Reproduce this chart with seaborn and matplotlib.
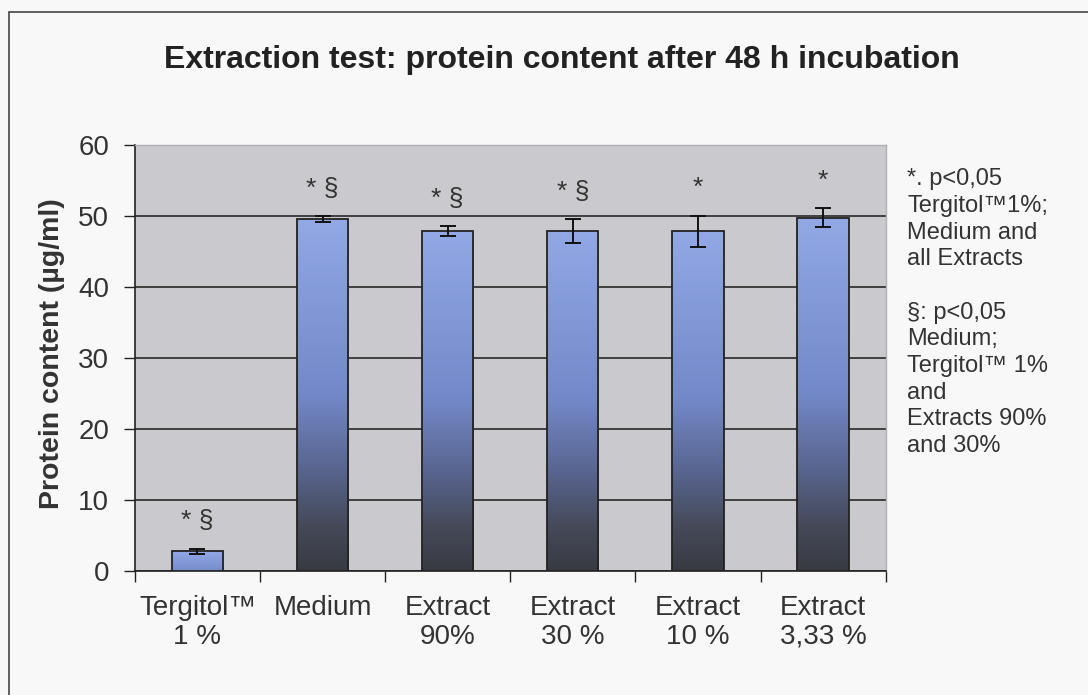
import numpy as np
import pandas as pd
import matplotlib
matplotlib.use("Agg")
import matplotlib.pyplot as plt
import seaborn as sns
from matplotlib.colors import LinearSegmentedColormap
from matplotlib.patches import Rectangle

categories = ["Tergitol\u2122\n1 %", "Medium", "Extract\n90%", "Extract\n30 %", "Extract\n10 %", "Extract\n3,33 %"]
protein = [2.8, 49.6, 47.9, 47.9, 47.9, 49.8]
errors = [0.4, 0.4, 0.7, 1.7, 2.2, 1.3]
marks = ["* \u00a7", "* \u00a7", "* \u00a7", "* \u00a7", "*", "*"]
note = ("*. p<0,05\nTergitol\u21221%;\nMedium and\nall Extracts\n\n"
        "\u00a7: p<0,05\nMedium;\nTergitol\u2122 1%\nand\nExtracts 90%\nand 30%")

df = pd.DataFrame({"group": categories, "protein": protein})

sns.set_theme(style="white")
plt.rcParams['font.family'] = ['Liberation Sans', 'DejaVu Sans']
text_col = "#333333"

fig = plt.figure(figsize=(10.88, 6.95), dpi=100)
fig.patch.set_facecolor("#f8f8f8")
ax = fig.add_axes([0.124, 0.178, 0.690, 0.613])
ax.set_facecolor("#cacace")

sns.barplot(data=df, x="group", y="protein", ax=ax, errorbar=None,
            width=0.41, color="#8fa6e4", edgecolor="#222222", linewidth=1.3, zorder=3)

ax.set_ylim(0, 60)
ax.set_xlim(-0.5, len(categories) - 0.5)
ax.set_yticks(np.arange(0, 61, 10))
ax.yaxis.grid(True, color="#1a1a1a", linewidth=1.1, zorder=0)
ax.set_axisbelow(True)

cmap = LinearSegmentedColormap.from_list(
    "bar", [(0.0, "#393b42"), (0.12, "#444857"), (0.3, "#5a6792"),
            (0.5, "#7388c8"), (1.0, "#92a9e6")])

for p, h in zip(ax.patches, protein):
    x0 = p.get_x(); w = p.get_width()
    lo = 0.0 if h > 10 else 0.55
    grad = np.linspace(1.0, lo, 256).reshape(-1, 1)
    im = ax.imshow(grad, cmap=cmap, vmin=0, vmax=1, aspect="auto",
                   extent=(x0, x0 + w, 0, h), zorder=3.5, interpolation="bicubic")
    im.set_clip_path(p)
    p.set_facecolor("none")
    p.set_zorder(4)

centers = [p.get_x() + p.get_width() / 2 for p in ax.patches]
ax.errorbar(centers, protein, yerr=errors, fmt="none", ecolor="#111111",
            elinewidth=1.4, capsize=6, capthick=1.4, zorder=5)

for c, h, e, m in zip(centers, protein, errors, marks):
    ax.annotate(m, (c, h + e), xytext=(0, 11), textcoords="offset points",
                ha="center", va="bottom", fontsize=19, color=text_col, zorder=6)

ax.set_xlim(-0.5, len(categories) - 0.5)
ax.set_ylim(0, 60)

# ticks at category boundaries
ax.set_xticks(np.arange(-0.5, len(categories) + 0.5, 1.0))
ax.set_xticklabels([])
ax.set_xticks(np.arange(len(categories)), minor=True)
ax.set_xticklabels(categories, minor=True, fontsize=20, color=text_col, linespacing=1.15)
ax.tick_params(axis="x", which="major", direction="out", length=8, width=1, color="#222222", bottom=True)
ax.tick_params(axis="x", which="minor", length=0, pad=17)
ax.tick_params(axis="y", direction="out", length=8, width=1, color="#222222", left=True,
               labelsize=20, labelcolor=text_col, pad=10.5)

for s in ["left", "bottom"]:
    ax.spines[s].set_color("#222222"); ax.spines[s].set_linewidth(1.2)
for s in ["top", "right"]:
    ax.spines[s].set_color("#b0b0b4"); ax.spines[s].set_linewidth(1.0)

ax.set_xlabel("")
ax.set_ylabel("Protein content (\u00b5g/ml)", fontsize=20.5, fontweight="bold", color=text_col)
ax.yaxis.set_label_coords(-0.093, 0.51)

fig.text(0.516, 0.914, "Extraction test: protein content after 48 h incubation",
         ha="center", va="center", fontsize=23, fontweight="bold", color="#222222")
fig.text(0.834, 0.758, note, ha="left", va="top", fontsize=17, color=text_col, linespacing=1.275)

fig.add_artist(Rectangle((9 / 1088, -0.1), 1.2, 1 - 12 / 695 + 0.1, transform=fig.transFigure,
                         fill=False, edgecolor="#444444", linewidth=1.2))

fig.savefig("out.png", dpi=100, facecolor=fig.get_facecolor())
